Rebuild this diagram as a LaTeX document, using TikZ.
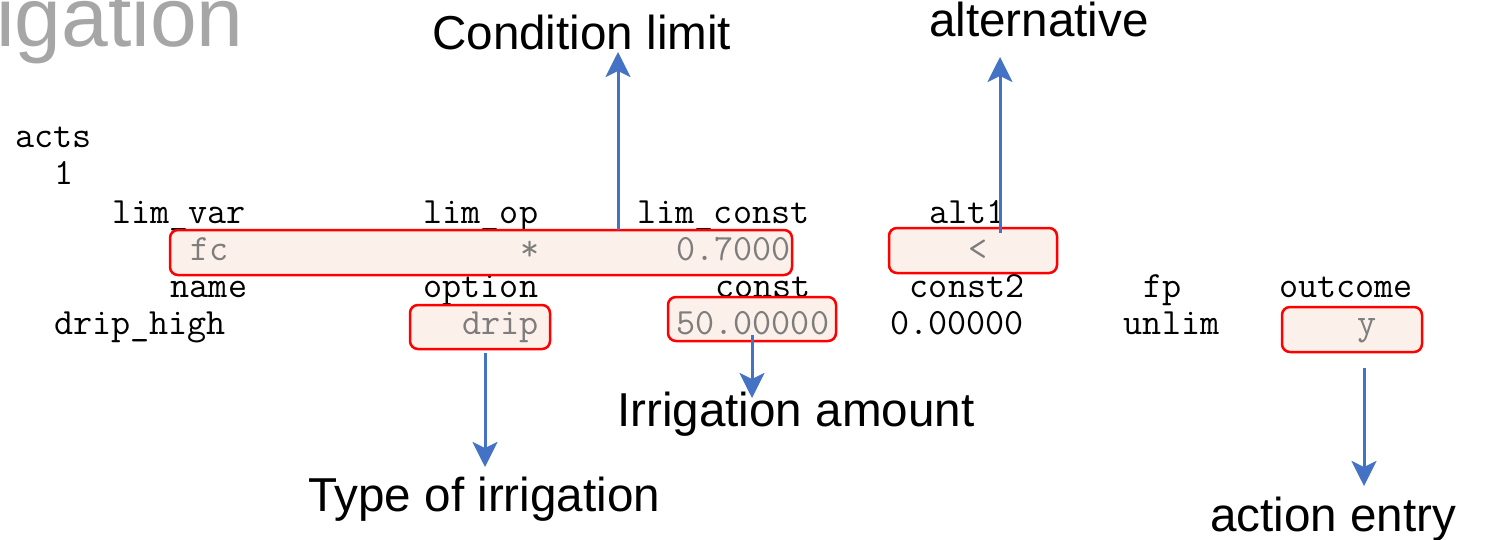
\documentclass[tikz,border=0pt]{standalone}
\usepackage{fontspec}
\newfontfamily\arialf{Liberation Sans}
\usetikzlibrary{arrows.meta}
\definecolor{arrblue}{RGB}{68,114,196}
\definecolor{boxred}{RGB}{255,0,0}
\definecolor{boxfill}{RGB}{252,241,234}
\definecolor{datagray}{RGB}{125,125,125}
\definecolor{titlegray}{RGB}{166,166,166}
\tikzset{
  tt/.style={font=\ttfamily\fontsize{37.05}{40}\selectfont, inner sep=0pt, anchor=base west, text=black},
  ttd/.style={tt, text=datagray},
  lab/.style={font=\arialf\fontsize{47.6}{50}\selectfont, inner sep=0pt, anchor=base west, text=black},
  hl/.style={draw=boxred, fill=boxfill, line width=2.5pt, rounded corners=8pt, inner sep=0pt, outer sep=0pt},
  arr/.style={draw=arrblue, line width=3pt, -{Stealth[length=25pt,width=25pt,inset=6pt]}},
}
\begin{document}
\begin{tikzpicture}[x=1pt,y=-1pt]
\useasboundingbox (0,0) rectangle (1488,540);
% title (cropped at the top edge, as in the reference)
\begin{scope}
\clip (0,0) rectangle (1488,540);
\node[anchor=base west, inner sep=0pt, text=titlegray, font=\arialf\fontsize{84}{86}\selectfont] (title) at (-4,47) {igation};
\end{scope}
% labels
\node[lab] (lcond) at (432,50) {Condition limit};
\node[lab] (lalt) at (929,37) {alternative};
\node[lab] (lamt) at (617,426) {Irrigation amount};
\node[lab] (ltype) at (308,511) {Type of irrigation};
\node[lab] (lact) at (1210,531) {action entry};
% header text
\node[tt] (acts) at ({15+19.45*0},148) {acts};
\node[tt] (one) at ({15+19.45*2},185) {1};
\node[tt] (hlimvar) at ({15+19.45*5},223) {lim\_var};
\node[tt] (hlimop) at ({15+19.45*21},223) {lim\_op};
\node[tt] (hlimconst) at ({15+19.45*32},223) {lim\_const};
\node[tt] (halt) at ({15+19.45*47},223) {alt1};
\node[tt] (hname) at ({15+19.45*8},297) {name};
\node[tt] (hoption) at ({15+19.45*21},297) {option};
\node[tt] (hconst) at ({15+19.45*36},297) {const};
\node[tt] (hconsttwo) at ({15+19.45*46},297) {const2};
\node[tt] (hfp) at ({15+19.45*58},297) {fp};
\node[tt] (houtcome) at ({15+19.45*65},297) {outcome};
\node[tt] (dname) at ({15+19.45*2},334) {drip\_high};
\node[tt] (dconsttwo) at ({15+19.45*45},334) {0.00000};
\node[tt] (dfp) at ({15+19.45*57},334) {unlim};
% highlight boxes
\node[hl, minimum width=622pt, minimum height=45pt] (b1) at (481,252.5) {};
\node[hl, minimum width=168pt, minimum height=45pt] (b2) at (973,250.5) {};
\node[hl, minimum width=140pt, minimum height=44pt] (b3) at (480,327) {};
\node[hl, minimum width=168pt, minimum height=44pt] (b4) at (752,319) {};
\node[hl, minimum width=140pt, minimum height=45pt] (b5) at (1352,329.5) {};
% boxed data
\node[ttd] (dfc) at ({15+19.45*9},260) {fc};
\node[ttd] (dstar) at ({15+19.45*26},260) {*};
\node[ttd] (dlim) at ({15+19.45*34},260) {0.7000};
\node[ttd] (dlt) at ({15+19.45*49},260) {<};
\node[ttd] (ddrip) at ({15+19.45*23},334) {drip};
\node[ttd] (dconst) at ({15+19.45*34},334) {50.00000};
\node[ttd] (dy) at ({15+19.45*69},334) {y};
% arrows
\coordinate (t1) at (618,52);
\coordinate (t2) at (1000,57);
\coordinate (t3) at (752,398);
\coordinate (t4) at (485,467);
\coordinate (t5) at (1364,486);
\draw[arr] (b1.north -| t1) -- (t1);
\draw[arr] ([yshift=-5pt]b2.north -| t2) -- (t2);
\draw[arr] ([yshift=6pt]b4.south -| t3) -- (t3);
\draw[arr] ([yshift=-4pt]b3.south -| t4) -- (t4);
\draw[arr] ([yshift=-16pt]b5.south -| t5) -- (t5);
\end{tikzpicture}
\end{document}
